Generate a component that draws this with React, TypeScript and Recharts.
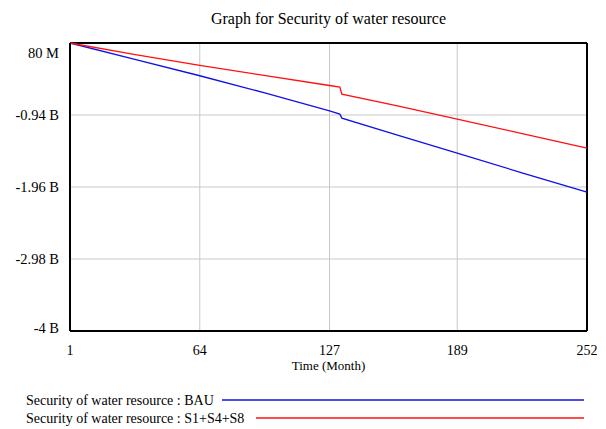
import { LineChart, Line, XAxis, YAxis, CartesianGrid, ReferenceLine } from 'recharts'

// Time (Month) sample points
const months = [1, 32, 64, 96, 127, 132, 133, 160, 189, 220, 252]
// Security of water resource, scenario BAU
const bauValues = [80e6, -150e6, -384e6, -630e6, -881e6, -927e6, -984e6, -1225e6, -1481e6, -1755e6, -2034e6]
// Security of water resource, scenario S1+S4+S8
const s148Values = [80e6, -80e6, -238e6, -382e6, -522e6, -544e6, -644e6, -812e6, -998e6, -1200e6, -1410e6]

const xTicks = [1, 64, 127, 189, 252]
const yTicks = [80e6, -0.94e9, -1.96e9, -2.98e9, -4e9]

const seriesNames = ['Security of water resource : BAU', 'Security of water resource : S1+S4+S8']
const seriesColors = ['#1010e8', '#ff1010']

const FONT = '"Liberation Serif", "DejaVu Serif", serif'

const formatY = (v: number) => (v > 0 ? `${Math.round(v / 1e6)} M` : `${+(v / 1e9).toFixed(2)} B`)

const chartData = months.map((m, i) => ({
  month: m,
  bau: bauValues[i],
  s148: s148Values[i]
}))

// Vensim style: top label sits below the top edge, bottom label above the bottom edge
function YTick(props: any) {
  const { x, y, payload, index } = props
  let dy = 5
  if (index === 0) dy = 15
  if (index === yTicks.length - 1) dy = 2
  return (
    <text x={x - 3} y={y + dy} textAnchor="end" fontFamily={FONT} fontSize={14.5} fill="#000">
      {formatY(payload.value)}
    </text>
  )
}

function LegendBlock() {
  return (
    <svg width={606} height={50} style={{ position: 'absolute', left: 0, top: 385 }}>
      <text x={26} y={20} fontFamily={FONT} fontSize={14} fill="#000">{seriesNames[0]}</text>
      <line x1={222} x2={584} y1={15} y2={15} stroke={seriesColors[0]} strokeWidth={1.3} />
      <text x={26} y={38} fontFamily={FONT} fontSize={14} fill="#000">{seriesNames[1]}</text>
      <line x1={256} x2={584} y1={33} y2={33} stroke={seriesColors[1]} strokeWidth={1.3} />
    </svg>
  )
}

export default function App() {
  return (
    <div style={{ position: 'absolute', left: 0, top: 0, width: 606, height: 429, background: '#fff' }}>
      <div
        style={{
          position: 'absolute',
          left: 70,
          width: 517,
          top: 10,
          textAlign: 'center',
          fontFamily: FONT,
          fontSize: 16,
          color: '#000'
        }}
      >
        Graph for Security of water resource
      </div>
      <LineChart width={606} height={429} data={chartData} margin={{ top: 43, right: 19, left: 0, bottom: 58 }}>
        <CartesianGrid stroke="#c8c8c8" strokeWidth={1} vertical horizontal />
        <XAxis
          dataKey="month"
          type="number"
          domain={[1, 252]}
          ticks={xTicks}
          interval={0}
          tickLine={false}
          axisLine={{ stroke: '#000', strokeWidth: 2 }}
          tick={{ fontFamily: FONT, fontSize: 14, fill: '#000' }}
          tickMargin={8}
          height={40}
          label={{ value: 'Time (Month)', position: 'insideBottom', offset: 1, fontFamily: FONT, fontSize: 13, fill: '#000' }}
        />
        <YAxis
          type="number"
          domain={[-4e9, 80e6]}
          ticks={yTicks}
          interval={0}
          width={70}
          tickLine={false}
          axisLine={{ stroke: '#000', strokeWidth: 2 }}
          tick={<YTick />}
        />
        <ReferenceLine x={252} stroke="#000" strokeWidth={2} />
        <ReferenceLine y={80e6} stroke="#000" strokeWidth={2} />
        <Line
          type="linear"
          dataKey="bau"
          name={seriesNames[0]}
          stroke={seriesColors[0]}
          strokeWidth={1.3}
          dot={false}
          isAnimationActive={false}
        />
        <Line
          type="linear"
          dataKey="s148"
          name={seriesNames[1]}
          stroke={seriesColors[1]}
          strokeWidth={1.3}
          dot={false}
          isAnimationActive={false}
        />
      </LineChart>
      <LegendBlock />
    </div>
  )
}
